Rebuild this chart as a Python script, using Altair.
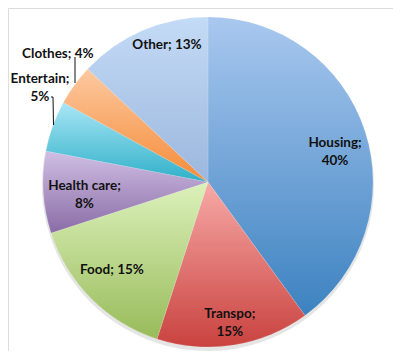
import altair as alt
import pandas as pd

categories = ["Housing", "Transpo", "Food", "Health care", "Entertain", "Clothes", "Other"]
values = [40, 15, 15, 8, 5, 4, 13]
top_colors = ["#a9c8ef", "#f7aaa7", "#dcf1bb", "#d0bfe4", "#a9e6f6", "#fdc9a0", "#c4dbf6"]
bottom_colors = ["#3c82c0", "#c9423f", "#98bb5a", "#8a6ca6", "#2fb0c8", "#f58b38", "#9cb7de"]
label_lines = [["Housing;", "40%"], ["Transpo;", "15%"], ["Food; 15%"], ["Health care;", "8%"],
               ["Entertain;", "5%"], ["Clothes; 4%"], ["Other; 13%"]]

df = pd.DataFrame({"cat": categories, "value": values, "order": list(range(len(categories)))})

CX, CY, R = 200, 174, 165

base = (
    alt.Chart(df)
    .transform_window(cum="sum(value)", sort=[alt.SortField("order")], frame=[None, 0])
    .transform_calculate(start="datum.cum - datum.value", mid="datum.cum - datum.value / 2")
)
theta_scale = alt.Scale(domain=[0, 100], range=[0, 6.283185307179586])

layers = []
# soft shadow under the pie
layers.append(
    base.mark_arc(outerRadius=R + 1, fill="#000000", opacity=0.10)
    .encode(theta=alt.Theta("start:Q", scale=theta_scale), theta2="cum:Q",
            x=alt.value(CX), y=alt.value(CY + 3))
)
for cat, c0, c1 in zip(categories, top_colors, bottom_colors):
    grad = alt.Gradient(
        gradient="linear",
        stops=[alt.GradientStop(color=c0, offset=0), alt.GradientStop(color=c1, offset=1)],
        x1=0, x2=0, y1=0, y2=1,
    )
    layers.append(
        base.transform_filter(alt.datum.cat == cat)
        .mark_arc(outerRadius=R, fill=grad, stroke="#ffffff", strokeWidth=0.4, strokeOpacity=0.35)
        .encode(theta=alt.Theta("start:Q", scale=theta_scale), theta2="cum:Q",
                x=alt.value(CX), y=alt.value(CY))
    )

# label placement: (radius, angular nudge in %)
placement = {
    "Housing": (131, 1.08),
    "Transpo": (141, 0.03),
    "Food": (129, 0.86),
    "Health care": (124, -0.42),
    "Entertain": (193.5, 2.76),
    "Clothes": (198, 1.3),
    "Other": (144, 1.9),
}
for cat, lines in zip(categories, label_lines):
    rad, nudge = placement[cat]
    dy = -9 * (len(lines) - 1) + 1.5
    layers.append(
        base.transform_filter(alt.datum.cat == cat)
        .transform_calculate(pos=f"datum.mid + {nudge}", lbl=f"{lines!r}")
        .mark_text(font="Lato", fontWeight="bold", fontSize=13.5, color="#111111",
                   radius=rad, lineHeight=18, align="center", baseline="middle", dy=dy)
        .encode(theta=alt.Theta("pos:Q", scale=theta_scale), text="lbl:N",
                x=alt.value(CX), y=alt.value(CY))
    )

# leader lines for the small outside labels
leader = pd.DataFrame({
    "x": [67, 43, 45],
    "y": [49, 89, 89],
    "x2": [67, 45, 45.5],
    "y2": [75, 89, 117],
})
for _, row in leader.iterrows():
    layers.append(
        alt.Chart(df.head(1)).mark_rule(color="#111111", strokeWidth=1)
        .encode(x=alt.value(float(row.x)), y=alt.value(float(row.y)),
                x2=alt.value(float(row.x2)), y2=alt.value(float(row.y2)))
    )

chart = (
    alt.layer(*layers)
    .properties(width=385, height=343, padding=0, autosize=alt.AutoSizeParams(type="none"))
    .configure_view(stroke=None)
    .configure(background="#ffffff")
)
chart.save("out.html", embed_options={"renderer": "svg", "actions": False})
